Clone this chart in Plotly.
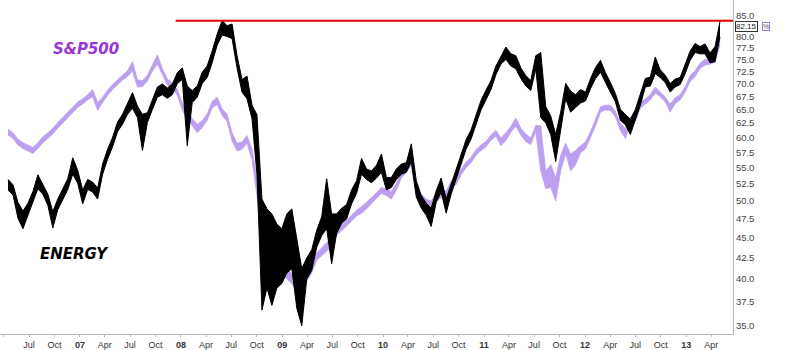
import math
import pandas as pd
import plotly.graph_objects as go

# ---- data ----
dates = pd.date_range('2006-04-16', periods=144, freq='18D')

energy_hi = [53.2,52.4,49.8,48.6,49.7,51.4,53.9,52.5,51.0,48.5,
 50.3,51.8,53.3,56.6,54.6,51.6,53.2,52.8,51.9,55.6,
 58.0,60.0,62.7,64.1,66.0,68.2,65.6,64.1,64.4,67.0,
 69.3,69.9,69.1,69.9,72.2,73.2,69.5,68.6,69.5,72.3,
 73.6,76.8,80.6,83.8,82.6,83.0,75.8,70.8,71.5,65.8,
 64.0,50.3,48.9,48.2,46.8,46.2,48.2,48.9,44.9,41.2,
 42.5,43.5,46.0,47.8,53.3,48.2,48.2,49.0,49.5,51.6,
 53.0,56.5,54.8,54.5,55.4,57.2,53.5,53.5,54.8,55.6,
 55.8,58.9,53.0,50.8,49.7,49.0,51.5,53.4,50.3,52.5,
 54.7,57.1,59.6,61.3,64.0,66.7,68.7,70.6,73.6,75.8,
 77.7,76.2,75.8,73.2,71.6,70.6,75.8,76.5,65.5,63.8,
 60.5,64.5,70.0,68.5,67.8,68.8,68.3,71.0,73.3,74.8,
 72.2,70.2,68.0,65.0,64.0,63.2,65.0,67.8,71.0,71.3,
 75.5,72.8,71.7,70.0,70.9,71.2,74.0,76.8,78.5,77.8,
 78.4,76.4,77.8,83.6]

energy_lo = [51.6,50.9,47.6,46.2,48.0,49.9,51.8,51.0,49.4,46.3,
 48.8,50.2,51.7,54.0,52.6,49.6,51.7,51.3,50.3,54.0,
 56.4,58.4,61.0,62.3,64.1,65.2,63.5,57.8,62.6,65.0,
 67.3,67.8,67.1,67.8,70.0,70.8,58.6,66.3,67.3,70.0,
 71.2,74.3,78.1,80.4,80.1,79.6,73.2,68.3,67.0,63.3,
 54.0,36.6,39.0,37.1,39.0,39.5,40.7,41.2,36.8,35.0,
 40.0,41.0,43.8,45.3,46.2,41.8,45.6,46.9,47.5,49.6,
 51.1,54.0,53.2,52.7,53.4,54.3,51.6,52.0,53.2,54.0,
 54.3,56.0,50.6,49.0,48.0,46.5,49.8,51.3,48.3,51.0,
 53.3,55.6,58.0,59.7,62.3,64.9,66.8,68.8,71.8,74.0,
 75.0,73.6,73.0,71.0,69.5,68.6,73.0,63.5,62.5,60.5,
 56.0,61.5,67.0,64.5,65.3,66.2,66.6,69.0,71.0,72.3,
 70.2,68.4,66.4,63.0,62.2,60.5,63.2,65.8,69.3,69.5,
 72.0,71.2,70.2,68.3,69.3,69.8,72.0,74.8,76.5,76.2,
 76.2,74.3,74.5,80.0]

spx_hi = [61.4,60.8,59.7,59.1,58.7,58.3,59.1,60.1,60.8,61.6,
 62.6,63.5,64.6,65.5,66.4,67.0,67.8,68.8,66.3,67.3,
 68.7,69.8,70.8,71.7,72.6,74.5,70.7,70.6,71.7,73.7,
 76.0,73.0,70.9,70.1,68.9,66.2,64.8,63.3,62.3,62.9,
 64.2,66.5,67.3,65.1,64.1,60.8,59.0,59.2,60.3,58.0,
 53.5,47.5,44.6,43.0,42.4,41.9,41.2,40.6,39.6,39.3,
 40.8,41.7,43.1,43.8,44.4,44.9,46.3,46.7,47.4,48.1,
 48.7,49.2,49.8,50.5,51.2,52.0,51.7,51.4,52.6,54.3,
 55.3,56.6,51.9,51.0,50.3,50.0,51.2,51.6,51.4,53.0,
 53.3,54.8,55.9,56.7,57.9,58.7,59.3,60.4,61.2,59.9,
 60.8,61.9,63.4,61.6,60.6,59.9,62.1,62.0,54.5,55.5,
 53.5,57.0,59.0,57.2,57.8,58.6,59.2,61.0,63.2,65.5,
 65.8,65.8,64.6,62.5,61.5,63.6,63.9,66.3,67.0,67.8,
 69.3,68.3,67.3,66.0,67.2,67.8,69.3,71.6,72.6,74.2,
 75.0,75.1,75.5,79.5]

spx_lo = [60.4,59.8,58.7,58.1,57.7,57.3,58.1,59.1,59.8,60.6,
 61.6,62.5,63.6,64.5,65.4,66.0,66.8,67.4,64.8,66.3,
 67.7,68.8,69.8,70.7,71.4,72.6,69.3,69.4,70.5,72.5,
 74.0,71.7,69.7,68.9,67.7,64.9,63.2,62.1,60.8,61.7,
 63.0,65.3,65.9,63.9,62.8,59.4,57.7,58.0,59.0,56.3,
 50.8,44.0,42.4,41.6,41.1,40.6,40.0,39.5,38.5,38.2,
 39.8,40.7,42.2,42.8,43.4,43.9,45.3,45.9,46.5,47.2,
 47.9,48.3,48.9,49.7,50.4,51.1,50.8,50.3,51.6,53.4,
 54.3,55.3,50.8,49.9,49.2,49.0,50.1,50.5,50.3,52.1,
 52.4,53.9,55.0,55.8,57.0,57.8,58.4,59.5,60.2,58.6,
 59.5,60.9,62.0,60.4,59.3,58.8,61.0,54.5,51.8,52.0,
 50.0,54.5,57.3,54.5,55.5,57.4,58.1,60.1,62.0,64.5,
 64.9,64.8,63.6,61.2,59.8,62.5,62.8,65.2,66.0,66.8,
 68.1,67.4,66.4,64.5,66.1,66.8,68.3,70.4,71.4,73.1,
 73.8,74.0,74.4,78.1]

resistance_level = 83.8
resistance_dates = ['2007-12-13', '2013-06-19']
last_value = 82.15

tick_dates = pd.date_range('2006-04-01', '2013-04-01', freq='QS')
tick_text = [('<b>%02d</b>' % (d.year % 100)) if d.month == 1 else d.strftime('%b')
             for d in tick_dates]
y_ticks = [35 + 2.5 * k for k in range(21) if 35 + 2.5 * k != 82.5]
y_text = ['%.1f' % v for v in y_ticks]

# ---- figure ----
fig = go.Figure()

def band(lo, hi, color, width):
    fig.add_trace(go.Scatter(x=dates, y=lo, mode='lines',
                             line=dict(color=color, width=width), hoverinfo='skip'))
    fig.add_trace(go.Scatter(x=dates, y=hi, mode='lines',
                             line=dict(color=color, width=width),
                             fill='tonexty', fillcolor=color, hoverinfo='skip'))

band(spx_lo, spx_hi, '#bd9ff0', 0.8)
band(energy_lo, energy_hi, '#000000', 1.0)

fig.add_trace(go.Scatter(x=resistance_dates, y=[resistance_level] * 2, mode='lines',
                         line=dict(color='#e00000', width=2), hoverinfo='skip'))

fig.update_layout(
    width=791, height=350,
    margin=dict(l=0, r=58, t=0, b=14),
    paper_bgcolor='white', plot_bgcolor='white',
    showlegend=False,
    font=dict(family='Liberation Sans, Arial, sans-serif', size=9, color='#333'),
    xaxis=dict(type='date', range=['2006-03-18', '2013-06-19'],
               tickvals=list(tick_dates), ticktext=tick_text,
               showgrid=False, zeroline=False,
               showline=True, linecolor='#b8b8b8', linewidth=1,
               ticks='outside', ticklen=2, tickcolor='#b8b8b8',
               tickfont=dict(size=9, color='#333')),
    yaxis=dict(type='log', side='right',
               range=[math.log10(34.18), math.log10(88.9)],
               tickvals=y_ticks, ticktext=y_text,
               showgrid=False, zeroline=False,
               showline=True, linecolor='#b8b8b8', linewidth=1,
               ticks='', tickfont=dict(size=9.5, color='#444')),
)

fig.add_annotation(xref='paper', yref='y', x=1.003, y=math.log10(last_value),
                   xanchor='left', yanchor='middle', showarrow=False, yshift=1,
                   text='%.2f' % last_value,
                   font=dict(size=8, color='#222'),
                   bordercolor='#333', borderwidth=1, borderpad=0, bgcolor='white')
fig.add_annotation(xref='paper', yref='y', x=1.039, y=math.log10(last_value),
                   xanchor='left', yanchor='middle', showarrow=False, yshift=1,
                   text='%', font=dict(size=7, color='#555'),
                   bordercolor='#9b7fd0', borderwidth=1, borderpad=0, bgcolor='white')

fig.add_annotation(xref='paper', yref='paper', x=0.117, y=0.854,
                   xanchor='center', yanchor='middle', showarrow=False,
                   text='<b><i>S&amp;P500</i></b>',
                   font=dict(family='DejaVu Sans, sans-serif', size=15, color='#9a35d6'))
fig.add_annotation(xref='paper', yref='paper', x=0.102, y=0.241,
                   xanchor='center', yanchor='middle', showarrow=False,
                   text='<b><i>ENERGY</i></b>',
                   font=dict(family='DejaVu Sans, sans-serif', size=15, color='#000'))

fig.write_html('out.html')
